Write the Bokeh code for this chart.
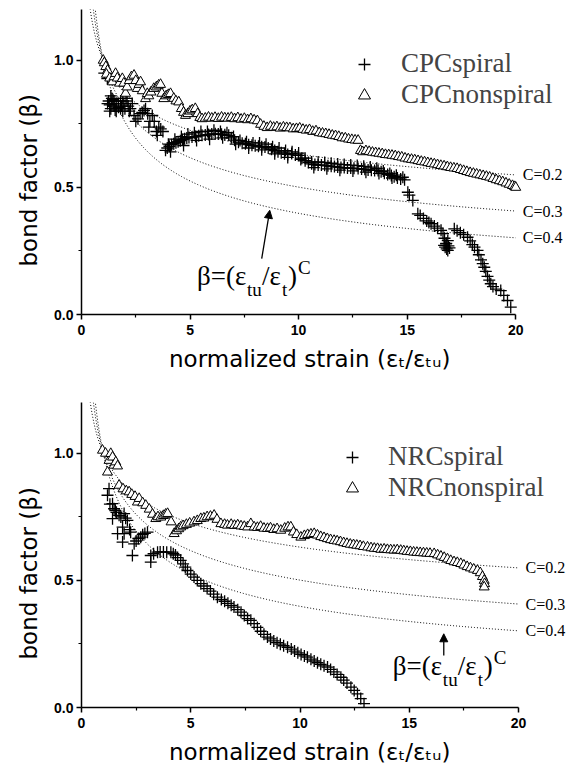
import numpy as np
from bokeh.plotting import figure
from bokeh.layouts import column
from bokeh.models import (Range1d, FixedTicker, PrintfTickFormatter, Label, Arrow,
                          NormalHead, Legend, LegendItem)
from bokeh.embed import file_html
from bokeh.resources import INLINE

# ---------------- data ----------------
cpc_nonspiral_x = [1.0, 1.05, 1.12, 1.2, 1.15, 1.3, 1.42, 1.5, 1.57, 1.65, 1.75, 1.88, 1.95, 2.03, 2.1, 2.2, 2.3, 2.42, 2.5, 2.57,
                   2.65, 2.72, 2.8, 2.95, 3.03, 3.1, 3.2, 3.33, 3.45, 3.55, 3.64, 3.7, 3.79, 3.9, 4.0, 4.1, 4.25, 4.35, 4.48, 4.6,
                   4.7, 4.79, 4.9, 5.0, 5.1, 5.24, 5.35, 5.45, 5.55, 5.7, 5.85, 6.0, 6.15, 6.3, 6.45, 6.6, 6.75, 6.9, 7.05, 7.2,
                   7.35, 7.5, 7.65, 7.8, 7.95, 8.1, 8.25, 8.4, 8.55, 8.7, 8.85, 9.0, 9.15, 9.3, 9.45, 9.6, 9.75, 9.9, 10.05, 10.2,
                   10.35, 10.5, 10.65, 10.8, 10.95, 11.1, 11.25, 11.4, 11.55, 11.7, 11.85, 12.0, 12.15, 12.3, 12.45, 12.6, 12.74,
                   12.85, 12.95, 13.1, 13.25, 13.4, 13.55, 13.7, 13.85, 14.0, 14.15, 14.3, 14.45, 14.6, 14.75, 14.9, 15.05, 15.2,
                   15.35, 15.5, 15.65, 15.8, 15.95, 16.1, 16.25, 16.4, 16.55, 16.7, 16.85, 17.0, 17.15, 17.3, 17.45, 17.6, 17.75,
                   17.9, 18.05, 18.2, 18.35, 18.5, 18.65, 18.8, 18.95, 19.1, 19.25, 19.4, 19.55, 19.7, 19.85, 19.95, 20.0]
cpc_nonspiral_y = [1.0, 0.99, 0.975, 0.96, 0.945, 0.93, 0.915, 0.935, 0.948, 0.93, 0.91, 0.928, 0.91, 0.87, 0.895, 0.92, 0.935, 0.941, 0.92, 0.889,
                   0.905, 0.915, 0.88, 0.849, 0.869, 0.86, 0.875, 0.889, 0.895, 0.902, 0.905, 0.87, 0.849, 0.86, 0.865, 0.869, 0.85, 0.84, 0.836, 0.81,
                   0.795, 0.783, 0.79, 0.8, 0.805, 0.81, 0.79, 0.775, 0.77, 0.772, 0.776, 0.772, 0.775, 0.771, 0.776, 0.773, 0.772, 0.775, 0.77, 0.774,
                   0.768, 0.771, 0.766, 0.77, 0.765, 0.762, 0.748, 0.74, 0.735, 0.74, 0.736, 0.738, 0.733, 0.737, 0.735, 0.734, 0.73, 0.731, 0.733, 0.728,
                   0.725, 0.727, 0.72, 0.722, 0.715, 0.713, 0.711, 0.708, 0.705, 0.703, 0.7, 0.695, 0.694, 0.69, 0.688, 0.686, 0.685,
                   0.645, 0.64, 0.644, 0.641, 0.638, 0.636, 0.634, 0.632, 0.629, 0.628, 0.626, 0.624, 0.621, 0.619, 0.615, 0.612, 0.61,
                   0.608, 0.605, 0.602, 0.6, 0.597, 0.594, 0.592, 0.589, 0.586, 0.584, 0.581, 0.578, 0.576, 0.574, 0.57, 0.566, 0.562,
                   0.558, 0.555, 0.552, 0.549, 0.546, 0.543, 0.54, 0.535, 0.53, 0.526, 0.522, 0.517, 0.512, 0.507, 0.503, 0.5]

cpc_spiral_x = [1.05, 1.19, 1.25, 1.3, 1.35, 1.4, 1.45, 1.5, 1.55, 1.6, 1.7, 1.8, 1.85, 1.9, 1.95, 2.05, 2.15, 2.25, 2.34, 2.42,
                2.5, 2.6, 2.7, 2.8, 2.88, 2.95, 3.05, 3.1, 3.15, 3.26, 3.35, 3.45, 3.49, 3.56, 3.65, 3.75,
                3.87, 3.95, 4.05, 4.15, 4.25, 4.35, 4.45, 4.55, 4.65, 4.75, 4.85, 4.95, 5.09, 5.25, 5.4, 5.55, 5.7, 5.85, 6.0,
                6.16, 6.3, 6.45, 6.6, 6.78, 6.9, 7.05, 7.23, 7.4, 7.55, 7.7, 7.85, 8.0, 8.15, 8.3, 8.45, 8.6, 8.75, 8.9, 9.05,
                9.2, 9.35, 9.5, 9.68, 9.85, 9.99, 10.15, 10.3, 10.45, 10.6, 10.75, 10.9, 11.05, 11.2, 11.35, 11.5, 11.65, 11.8,
                11.95, 12.1, 12.25, 12.4, 12.55, 12.74, 12.9, 13.05, 13.2, 13.35, 13.5, 13.66, 13.8, 13.95, 14.1, 14.27, 14.4,
                14.55, 14.7, 14.88, 15.03, 15.1, 15.26, 15.49, 15.6, 15.75, 15.9, 16.0, 16.1, 16.25, 16.4, 16.56, 16.65, 16.72,
                16.79, 16.75, 16.82, 16.87, 16.9, 16.95, 16.87, 16.7, 16.8, 17.17, 17.3, 17.45, 17.6, 17.78, 17.9, 18.0, 18.1,
                18.24, 18.3, 18.4, 18.48, 18.55, 18.62, 18.7, 18.78, 18.85, 18.95, 19.1, 19.31, 19.45, 19.62, 19.77,
                1.3, 1.4, 1.5, 1.6, 1.7, 1.8, 1.9, 2.0, 2.1, 2.2, 1.2, 1.35,
                4.0, 4.3, 4.6, 4.9, 5.2, 5.5, 5.8, 6.1, 6.4, 6.7, 7.0, 7.3, 7.6, 7.9, 8.2, 8.5, 8.8, 9.1, 9.4, 9.7,
                10.0, 10.3, 10.6, 10.9, 11.2, 11.5, 11.8, 12.1, 12.4, 12.7, 13.0, 13.3, 13.6, 13.9, 14.2, 14.5, 14.8,
                4.1, 4.7, 5.3, 5.9, 6.5, 7.1, 7.7, 8.3, 8.9, 9.5, 10.1, 10.7, 11.3, 11.9, 12.5, 13.1, 13.7, 14.3]
cpc_spiral_y = [0.95, 0.928, 0.84, 0.825, 0.81, 0.83, 0.845, 0.82, 0.805, 0.83, 0.815, 0.84, 0.82, 0.8, 0.83, 0.85, 0.82, 0.81, 0.83, 0.783,
                0.76, 0.77, 0.79, 0.795, 0.803, 0.81, 0.79, 0.737, 0.76, 0.783, 0.76, 0.72, 0.705, 0.737, 0.73, 0.72,
                0.646, 0.655, 0.662, 0.668, 0.672, 0.676, 0.68, 0.684, 0.688, 0.691, 0.694, 0.696, 0.698, 0.7, 0.703, 0.705, 0.706, 0.708, 0.71,
                0.711, 0.71, 0.709, 0.707, 0.705, 0.695, 0.686, 0.678, 0.674, 0.672, 0.668, 0.666, 0.664, 0.662, 0.66, 0.659, 0.655, 0.65, 0.645, 0.64,
                0.636, 0.632, 0.63, 0.633, 0.628, 0.626, 0.615, 0.605, 0.598, 0.593, 0.59, 0.588, 0.588, 0.587, 0.585, 0.583, 0.582, 0.58,
                0.578, 0.578, 0.576, 0.576, 0.575, 0.574, 0.572, 0.571, 0.569, 0.568, 0.567, 0.567, 0.562, 0.556, 0.551, 0.547, 0.542,
                0.537, 0.533, 0.53, 0.481, 0.47, 0.449, 0.396, 0.39, 0.378, 0.368, 0.362, 0.357, 0.348, 0.34, 0.331, 0.318, 0.3,
                0.278, 0.265, 0.258, 0.252, 0.27, 0.262, 0.291, 0.272, 0.28, 0.337, 0.33, 0.322, 0.314, 0.304, 0.29, 0.275, 0.265,
                0.252, 0.235, 0.215, 0.2, 0.186, 0.17, 0.15, 0.135, 0.121, 0.11, 0.1, 0.094, 0.075, 0.055, 0.029,
                0.8, 0.85, 0.84, 0.8, 0.83, 0.81, 0.85, 0.81, 0.84, 0.8, 0.83, 0.86,
                0.67, 0.69, 0.7, 0.71, 0.715, 0.72, 0.72, 0.725, 0.72, 0.715, 0.7, 0.685, 0.68, 0.675, 0.675, 0.67, 0.66, 0.655, 0.645, 0.64,
                0.635, 0.615, 0.6, 0.6, 0.598, 0.595, 0.592, 0.59, 0.588, 0.586, 0.583, 0.58, 0.575, 0.565, 0.555, 0.548, 0.54,
                0.64, 0.665, 0.685, 0.69, 0.695, 0.67, 0.655, 0.648, 0.632, 0.618, 0.61, 0.578, 0.573, 0.568, 0.565, 0.56, 0.555, 0.537]

nrc_nonspiral_x = [0.96, 1.1, 1.19, 1.26, 1.34, 1.42, 1.49, 1.57, 1.65, 1.72, 1.9, 2.05, 2.18, 2.3, 2.45, 2.56, 2.64, 2.8, 2.94, 3.1,
                   3.25, 3.4, 3.5, 3.63, 3.75, 3.85, 3.94, 4.1, 4.24, 4.35, 4.45, 4.54, 4.65, 4.8, 4.95, 5.15, 5.3, 5.46, 5.6, 5.75,
                   5.9, 6.07, 6.2, 6.38, 6.55, 6.68, 6.85, 7.0, 7.15, 7.3, 7.45, 7.6, 7.75, 7.9, 8.05, 8.2, 8.35, 8.51, 8.65, 8.8,
                   8.95, 9.12, 9.3, 9.45, 9.58, 9.7, 9.85, 10.04, 10.2, 10.35, 10.5, 10.65, 10.8, 10.95, 11.1, 11.25, 11.4, 11.56,
                   11.7, 11.85, 12.0, 12.15, 12.3, 12.45, 12.6, 12.75, 12.9, 13.09, 13.25, 13.4, 13.55, 13.7, 13.85, 14.0, 14.15,
                   14.3, 14.45, 14.61, 14.75, 14.9, 15.05, 15.2, 15.35, 15.5, 15.65, 15.8, 15.95, 16.14, 16.3, 16.45, 16.6, 16.75,
                   16.9, 17.05, 17.2, 17.36, 17.5, 17.65, 17.8, 17.95, 18.12, 18.25, 18.35, 18.43, 18.45, 18.43]
nrc_nonspiral_y = [1.012, 1.0, 0.926, 0.972, 0.999, 0.985, 0.953, 0.966, 0.95, 0.874, 0.86, 0.852, 0.848, 0.838, 0.83, 0.808, 0.822, 0.805, 0.795, 0.78,
                   0.76, 0.743, 0.75, 0.749, 0.755, 0.76, 0.763, 0.73, 0.684, 0.695, 0.703, 0.71, 0.715, 0.72, 0.725, 0.73, 0.735, 0.743, 0.745, 0.75,
                   0.752, 0.756, 0.74, 0.723, 0.72, 0.717, 0.72, 0.716, 0.718, 0.714, 0.712, 0.71, 0.723, 0.71, 0.708, 0.712, 0.705, 0.704, 0.706, 0.7,
                   0.703, 0.697, 0.705, 0.71, 0.71, 0.69, 0.68, 0.67, 0.676, 0.68, 0.682, 0.684, 0.678, 0.672, 0.668, 0.664, 0.66, 0.657,
                   0.655, 0.652, 0.648, 0.645, 0.642, 0.64, 0.638, 0.636, 0.633, 0.631, 0.628, 0.626, 0.625, 0.622, 0.623, 0.621, 0.62,
                   0.619, 0.62, 0.618, 0.616, 0.614, 0.613, 0.611, 0.61, 0.609, 0.608, 0.607, 0.606, 0.605, 0.6, 0.595, 0.59, 0.584,
                   0.578, 0.573, 0.57, 0.566, 0.56, 0.554, 0.549, 0.544, 0.539, 0.53, 0.515, 0.5, 0.487, 0.474]

nrc_spiral_x = [1.19, 1.26, 1.3, 1.42, 1.42, 1.49, 1.55, 1.6, 1.65, 1.72, 1.8, 1.88, 1.88, 1.95, 1.95, 2.02, 2.1, 2.2, 2.25, 2.33,
                2.41, 2.5, 2.6, 2.71, 2.8, 2.9, 3.02, 3.17, 3.17, 3.3, 3.48, 3.6, 3.75, 3.9, 4.09, 4.2, 4.3, 4.4, 4.54, 4.65,
                4.75, 4.85, 5.0, 5.15, 5.3, 5.46, 5.6, 5.75, 5.9, 6.05, 6.22, 6.4, 6.55, 6.7, 6.85, 6.98, 7.15, 7.3, 7.45, 7.6,
                7.75, 7.9, 8.05, 8.2, 8.35, 8.51, 8.65, 8.8, 8.95, 9.1, 9.25, 9.43, 9.6, 9.75, 9.9, 10.05, 10.2, 10.34, 10.5,
                10.65, 10.8, 10.95, 11.1, 11.26, 11.4, 11.55, 11.7, 11.87, 12.0, 12.15, 12.33, 12.48, 12.63, 12.78, 12.93]
nrc_spiral_y = [0.835, 0.861, 0.8, 0.802, 0.743, 0.782, 0.775, 0.768, 0.684, 0.756, 0.75, 0.71, 0.651, 0.763, 0.684, 0.745, 0.736, 0.7, 0.69, 0.598,
                0.644, 0.655, 0.665, 0.67, 0.68, 0.685, 0.69, 0.572, 0.598, 0.605, 0.611, 0.612, 0.612, 0.611, 0.611, 0.605, 0.6, 0.59, 0.579, 0.565,
                0.552, 0.539, 0.525, 0.513, 0.5, 0.487, 0.478, 0.468, 0.458, 0.446, 0.434, 0.425, 0.418, 0.41, 0.402, 0.395, 0.385, 0.375, 0.362, 0.35,
                0.343, 0.33, 0.315, 0.3, 0.288, 0.277, 0.27, 0.262, 0.255, 0.249, 0.243, 0.237, 0.23, 0.222, 0.215, 0.209, 0.203, 0.198, 0.19,
                0.183, 0.176, 0.17, 0.164, 0.159, 0.15, 0.14, 0.13, 0.119, 0.108, 0.096, 0.08, 0.067, 0.054, 0.035, 0.015]

c_values = [0.2, 0.3, 0.4]
c_labels = ["C=0.2", "C=0.3", "C=0.4"]
x_ticks = [0, 5, 10, 15, 20]
x_minor = [2.5, 7.5, 12.5, 17.5]
y_ticks = [0.0, 0.5, 1.0]
y_minor = [0.25, 0.75]

SANS = "DejaVu Sans"
SERIF = "Liberation Serif"
X_LABEL = "normalized strain (\u03b5\u209c/\u03b5\u209c\u1d64)" + "\u00a0" * 5
Y_LABEL = "bond factor (\u03b2)" + "\u00a0" * 5


def make_panel(height, left, top, bottom, px_per_unit, spiral, nonspiral, names,
               legend_loc, legend_standoff, arrow, formula_at):
    x_end = (574 - left) / px_per_unit
    p = figure(width=574, height=height, output_backend="svg", toolbar_location=None,
               x_range=Range1d(0, x_end), y_range=Range1d(0, 1.2),
               min_border_left=left, min_border_right=0,
               min_border_top=top, min_border_bottom=bottom)
    p.outline_line_color = None
    p.grid.visible = False
    p.background_fill_color = "white"
    p.border_fill_color = "white"

    for ax in (p.xaxis[0], p.yaxis[0]):
        ax.axis_line_width = 1.5
        ax.axis_line_color = "black"
        ax.major_tick_line_width = 1.5
        ax.minor_tick_line_width = 1.2
        ax.major_tick_out = 5
        ax.major_tick_in = 0
        ax.minor_tick_out = 3
        ax.minor_tick_in = 0
        ax.major_label_text_font = "Liberation Sans"
        ax.major_label_text_font_style = "bold"
        ax.major_label_text_font_size = "14px"
        ax.major_label_text_color = "black"
        ax.axis_label_text_font = SANS
        ax.axis_label_text_font_style = "normal"
        ax.axis_label_text_font_size = "23px"
        ax.axis_label_text_color = "black"
    p.xaxis.bounds = (0, 20)
    p.xaxis.ticker = FixedTicker(ticks=x_ticks, minor_ticks=x_minor)
    p.yaxis.ticker = FixedTicker(ticks=y_ticks, minor_ticks=y_minor)
    p.yaxis.formatter = PrintfTickFormatter(format="%.1f")
    p.xaxis.major_label_standoff = 5
    p.yaxis.major_label_standoff = 3
    p.yaxis.axis_label = Y_LABEL
    p.yaxis.axis_label_standoff = 9
    p.xaxis.axis_label = X_LABEL
    p.xaxis.axis_label_standoff = 8

    # model curves beta = (1/x)^C
    xc = np.linspace(0.3, 20, 500)
    for c, lab in zip(c_values, c_labels):
        p.line(xc, xc ** (-c), line_color="black", line_width=1, line_dash="1 2")
        p.add_layout(Label(x=20, y=20 ** (-c), x_offset=7, text=lab, text_font=SERIF,
                           text_font_size="16px", text_baseline="middle", text_color="black"))

    r1 = p.scatter(spiral[0], spiral[1], marker="cross", size=12, line_color="black", line_width=1.3)
    r2 = p.scatter(nonspiral[0], nonspiral[1], marker="triangle", size=10, fill_color="white",
                   line_color="black", line_width=1)

    leg = Legend(items=[LegendItem(label=names[0], renderers=[r1]),
                        LegendItem(label=names[1], renderers=[r2])],
                 location=legend_loc, label_text_font=SERIF, label_text_font_size="27px",
                 border_line_alpha=0, background_fill_alpha=0, padding=0, margin=0, spacing=0,
                 glyph_width=30, glyph_height=30, label_standoff=legend_standoff)
    p.add_layout(leg)

    p.add_layout(Arrow(end=NormalHead(size=8, fill_color="black", line_color="black"),
                       x_start=arrow[0], y_start=arrow[1], x_end=arrow[2], y_end=arrow[3],
                       line_width=1.3, line_color="black"))

    fx, fy = formula_at
    pieces = [("\u03b2=(\u03b5", 0, 0, 27), ("tu", 50, -9, 19), ("/\u03b5", 65, 0, 27),
              ("t", 85, -9, 19), (")", 91, 0, 27), ("C", 101, 13, 19)]
    for t, dx, dy, s in pieces:
        p.add_layout(Label(x=fx, y=fy, x_offset=dx, y_offset=dy, text=t, text_font=SERIF,
                           text_font_size=f"{s}px", text_color="black"))
    return p


p1 = make_panel(385, 79, 9, 71, 21.8, (cpc_spiral_x, cpc_spiral_y), (cpc_nonspiral_x, cpc_nonspiral_y),
                ("CPCspiral", "CPCnonspiral"), (268, 204), 22,
                (8.30, 0.22, 8.67, 0.41), (5.32, 0.094))
p2 = make_panel(386, 81, 17, 64, 21.85, (nrc_spiral_x, nrc_spiral_y), (nrc_nonspiral_x, nrc_nonspiral_y),
                ("NRCspiral", "NRCnonspiral"), (256, 204), 21,
                (16.58, 0.205, 16.58, 0.29), (14.25, 0.106))

layout = column(p1, p2)
open("out.html", "w").write(file_html(layout, INLINE))
